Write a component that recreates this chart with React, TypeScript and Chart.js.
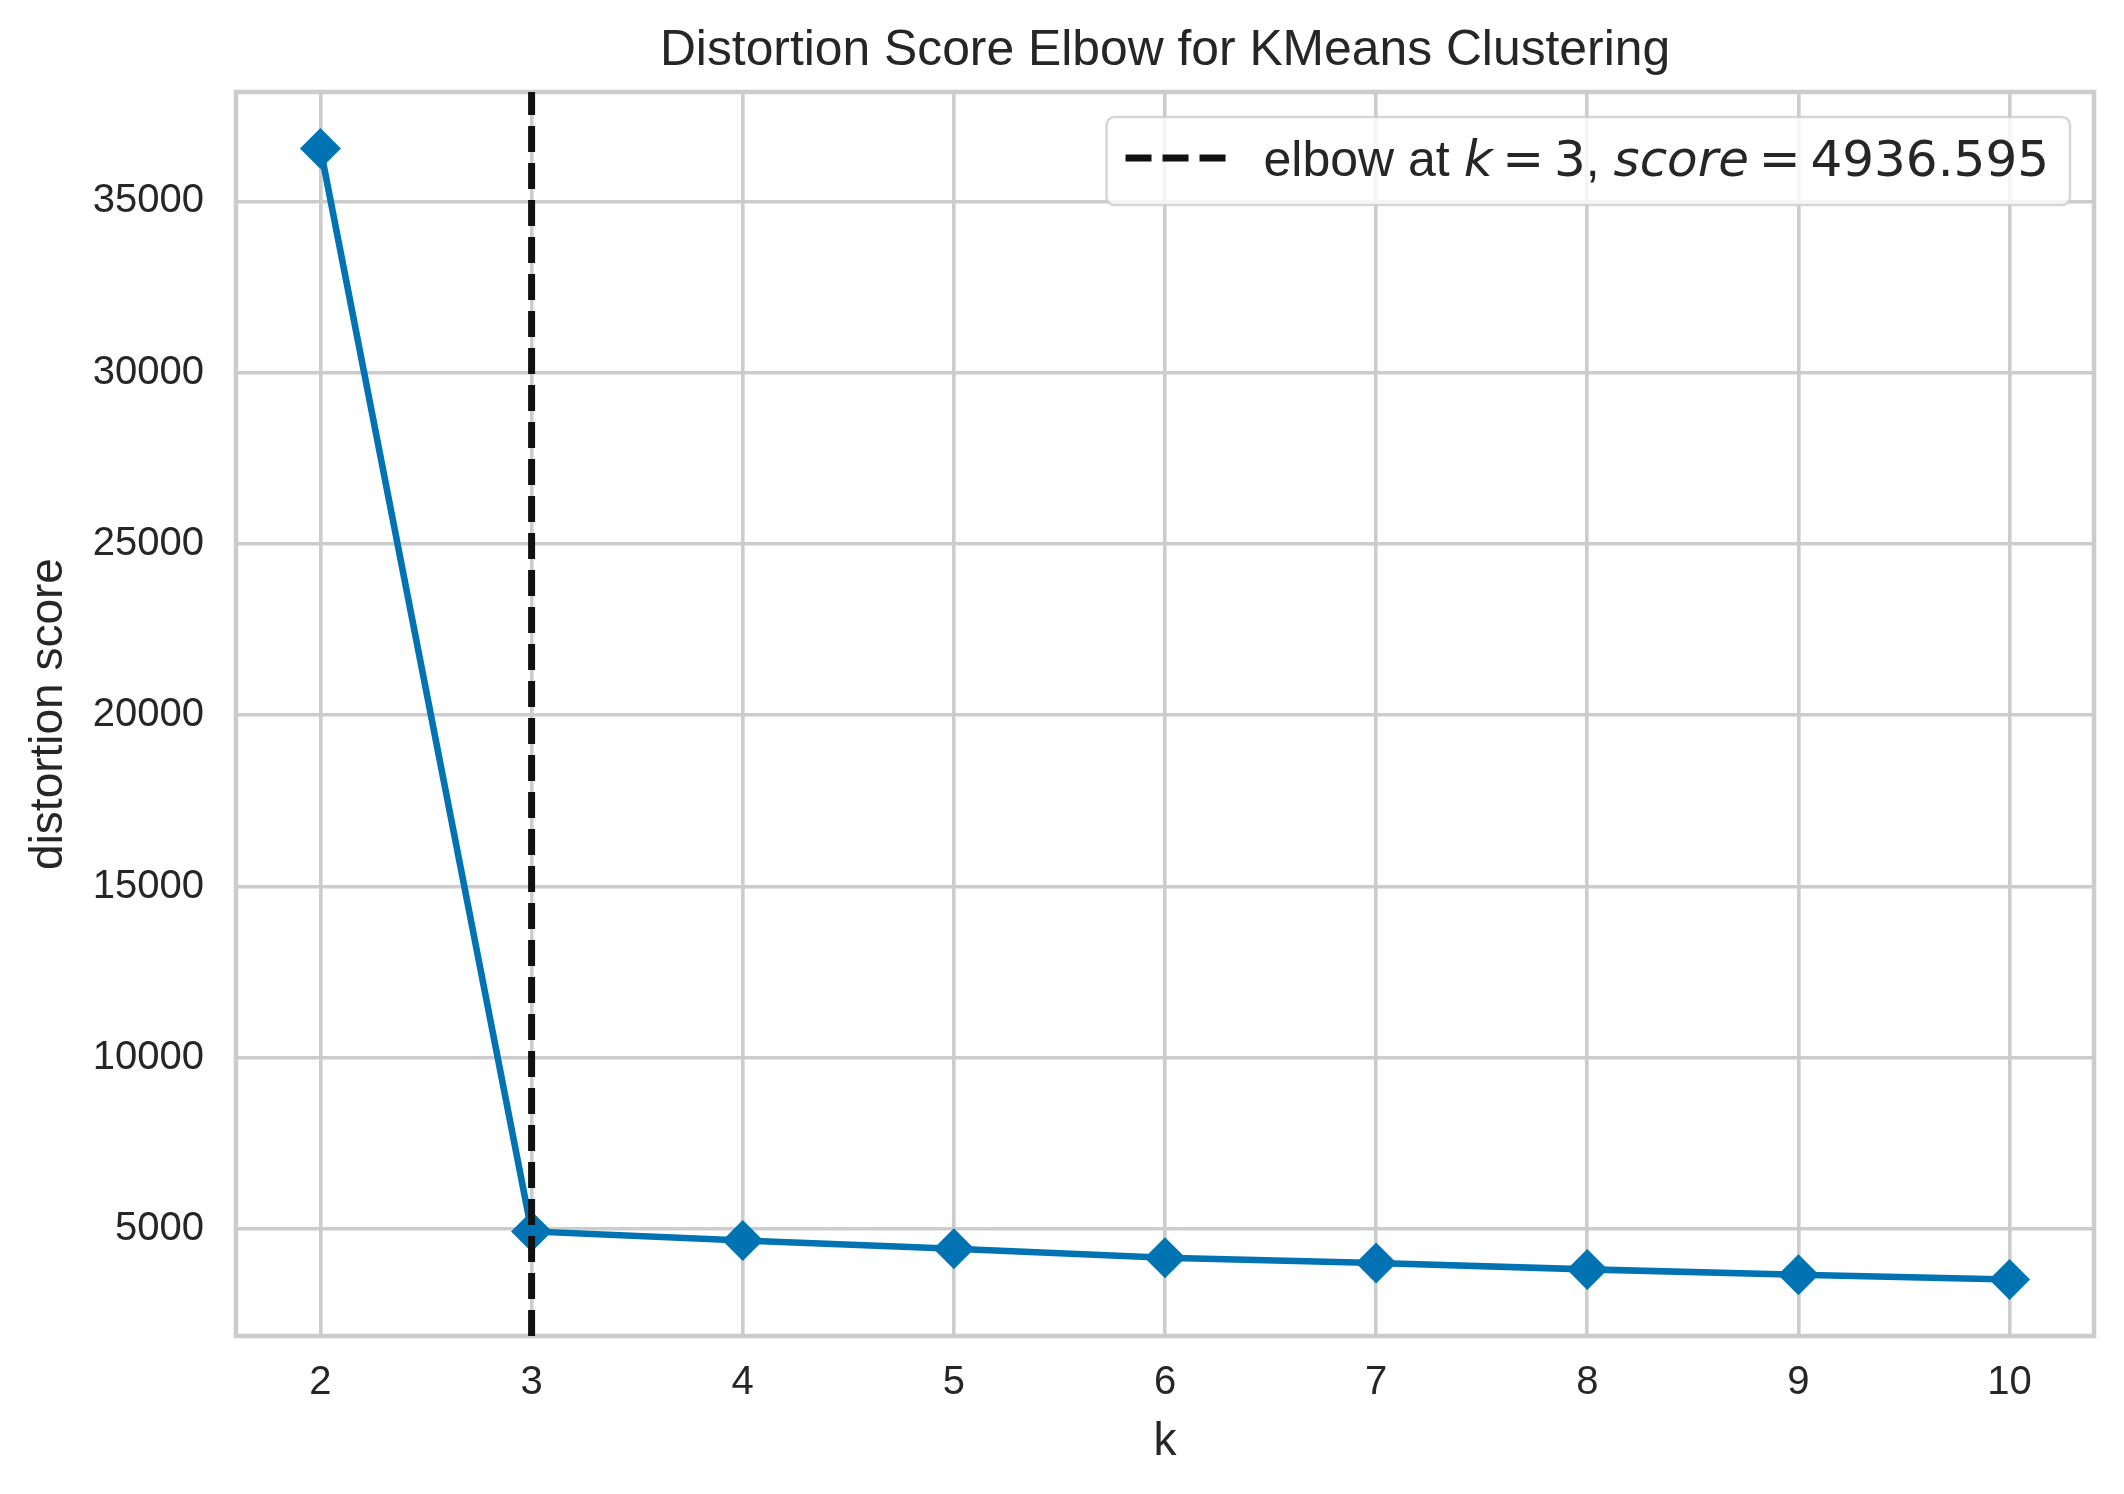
import React, { useEffect, useRef } from 'react';
import { Chart, registerables } from 'chart.js';

Chart.register(...registerables);

// ---- data ----
const K_VALUES = [2, 3, 4, 5, 6, 7, 8, 9, 10];
const DISTORTION = [36540, 4936.595, 4674, 4432, 4169, 4015, 3828, 3673, 3534];
const ELBOW_K = 3;
const ELBOW_SCORE = 4936.595;
const X_LIMITS = [1.6, 10.4];
const Y_LIMITS = [1885, 38190];
const X_TICKS = [2, 3, 4, 5, 6, 7, 8, 9, 10];
const Y_TICKS = [5000, 10000, 15000, 20000, 25000, 30000, 35000];

const TITLE = 'Distortion Score Elbow for KMeans Clustering';
const X_LABEL = 'k';
const Y_LABEL = 'distortion score';

// ---- style ----
const BLUE = '#0173B2';
const GRID = '#cccccc';
const TEXT = '#262626';
const SANS = "'Liberation Sans', Arial, sans-serif";
const MATH = "'DejaVu Sans', sans-serif";
const W = 2124;
const H = 1494;

const decorPlugin = {
  id: 'decor',
  beforeDatasetsDraw(chart: any) {
    const { ctx, chartArea: a } = chart;
    ctx.save();
    ctx.strokeStyle = GRID;
    ctx.lineWidth = 4.5;
    ctx.strokeRect(a.left, a.top, a.right - a.left, a.bottom - a.top);
    ctx.restore();
  },
  afterDraw(chart: any) {
    const { ctx, chartArea: a } = chart;
    const cx = (a.left + a.right) / 2;
    const cy = (a.top + a.bottom) / 2;
    ctx.save();
    ctx.fillStyle = TEXT;
    ctx.textAlign = 'center';
    ctx.textBaseline = 'alphabetic';

    // title
    ctx.font = `49.8px ${SANS}`;
    ctx.fillText(TITLE, cx, a.top - 27);

    // x label
    ctx.font = `46px ${SANS}`;
    ctx.fillText(X_LABEL, cx, a.bottom + 119);

    // y label
    ctx.save();
    ctx.translate(a.left - 174, cy);
    ctx.rotate(-Math.PI / 2);
    ctx.fillText(Y_LABEL, 0, 0);
    ctx.restore();

    // legend
    const fs = 50;
    const sp = 0.195 * fs;
    const segs: { t: string; f: string; gapAfter?: number }[] = [
      { t: 'elbow at ', f: `${fs}px ${SANS}` },
      { t: 'k', f: `italic ${fs}px ${MATH}`, gapAfter: sp },
      { t: '=', f: `${fs}px ${MATH}`, gapAfter: sp },
      { t: String(ELBOW_K), f: `${fs}px ${MATH}` },
      { t: ', ', f: `${fs}px ${SANS}` },
      { t: 'score', f: `italic ${fs}px ${MATH}`, gapAfter: sp },
      { t: '=', f: `${fs}px ${MATH}`, gapAfter: sp },
      { t: ELBOW_SCORE.toFixed(3), f: `${fs}px ${MATH}` },
    ];
    let textW = 0;
    for (const s of segs) {
      ctx.font = s.f;
      textW += ctx.measureText(s.t).width + (s.gapAfter || 0);
    }
    const padL = 19;
    const handleLen = 102;
    const handleGap = 36;
    const padR = 21;
    const boxW = padL + handleLen + handleGap + textW + padR;
    const boxH = 88;
    const boxR = a.right - 24;
    const boxL = boxR - boxW;
    const boxT = a.top + 25;
    ctx.beginPath();
    ctx.roundRect(boxL, boxT, boxW, boxH, 8);
    ctx.fillStyle = 'rgba(255,255,255,0.8)';
    ctx.fill();
    ctx.strokeStyle = 'rgba(204,204,204,0.8)';
    ctx.lineWidth = 2.5;
    ctx.stroke();

    // handle
    const hy = boxT + 41;
    ctx.beginPath();
    ctx.setLineDash([26, 11]);
    ctx.strokeStyle = '#111111';
    ctx.lineWidth = 7;
    ctx.moveTo(boxL + padL, hy);
    ctx.lineTo(boxL + padL + handleLen, hy);
    ctx.stroke();
    ctx.setLineDash([]);

    // text
    ctx.fillStyle = TEXT;
    ctx.textAlign = 'left';
    let x = boxL + padL + handleLen + handleGap;
    const base = boxT + 59;
    for (const s of segs) {
      ctx.font = s.f;
      ctx.fillText(s.t, x, base);
      x += ctx.measureText(s.t).width + (s.gapAfter || 0);
    }
    ctx.restore();
  },
};

export default function App() {
  const ref = useRef<HTMLCanvasElement>(null);
  useEffect(() => {
    if (!ref.current) return;
    const points = K_VALUES.map((k, i) => ({ x: k, y: DISTORTION[i] }));
    const chart = new Chart(ref.current, {
      type: 'line',
      data: {
        datasets: [
          {
            label: 'elbow',
            data: [
              { x: ELBOW_K, y: Y_LIMITS[0] },
              { x: ELBOW_K, y: Y_LIMITS[1] },
            ],
            borderColor: '#111111',
            borderWidth: 7,
            borderDash: [26, 11],
            pointRadius: 0,
            fill: false,
          },
          {
            label: 'distortion',
            data: points,
            borderColor: BLUE,
            backgroundColor: BLUE,
            borderWidth: 6.6,
            pointStyle: 'rectRot',
            pointRadius: 20.5,
            pointBorderWidth: 0,
            pointBackgroundColor: BLUE,
            fill: false,
            tension: 0,
          },
        ],
      },
      options: {
        responsive: false,
        animation: false,
        devicePixelRatio: 1,
        layout: { padding: { top: 92, right: 30, left: 0, bottom: 0 } },
        plugins: {
          legend: { display: false },
          title: { display: false },
          tooltip: { enabled: false },
        },
        scales: {
          x: {
            type: 'linear',
            min: X_LIMITS[0],
            max: X_LIMITS[1],
            afterBuildTicks: (s: any) => {
              s.ticks = X_TICKS.map((v) => ({ value: v }));
            },
            afterFit: (s: any) => {
              s.height = 158;
            },
            border: { display: false },
            grid: { color: GRID, lineWidth: 3.6, drawTicks: false },
            ticks: {
              padding: 23,
              color: TEXT,
              font: { family: SANS, size: 40 },
              maxRotation: 0,
              autoSkip: false,
              callback: (v: any) => String(v),
            },
          },
          y: {
            type: 'linear',
            min: Y_LIMITS[0],
            max: Y_LIMITS[1],
            afterBuildTicks: (s: any) => {
              s.ticks = Y_TICKS.map((v) => ({ value: v }));
            },
            afterFit: (s: any) => {
              s.width = 236;
            },
            border: { display: false },
            grid: { color: GRID, lineWidth: 3.6, drawTicks: false },
            ticks: {
              padding: 32,
              color: TEXT,
              font: { family: SANS, size: 40 },
              autoSkip: false,
              callback: (v: any) => String(v),
            },
          },
        },
      },
      plugins: [decorPlugin],
    });
    return () => chart.destroy();
  }, []);
  return (
    <div style={{ position: 'absolute', left: 0, top: 0, width: W, height: H, background: '#ffffff' }}>
      <canvas ref={ref} width={W} height={H} style={{ display: 'block' }} />
    </div>
  );
}
